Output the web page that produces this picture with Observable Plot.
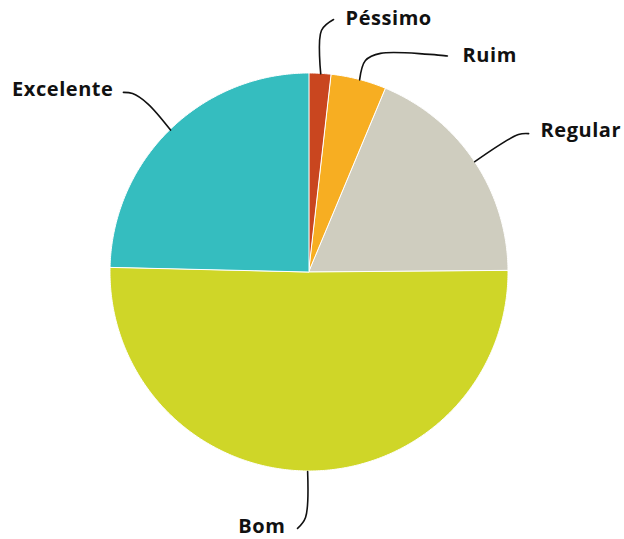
<!DOCTYPE html>
<html>
<head>
<meta charset="utf-8">
<script src="https://cdn.jsdelivr.net/npm/d3@7"></script>
<script src="https://cdn.jsdelivr.net/npm/@observablehq/plot@0.6"></script>
<style>
  html, body { margin: 0; padding: 0; background: #fff; }
</style>
</head>
<body>
<div id="chart"></div>
<script>
// Data (percent shares, clockwise from 12 o'clock)
const categories = ["Péssimo", "Ruim", "Regular", "Bom", "Excelente"];
const values = [1.8, 4.5, 18.6, 50.5, 24.6];

// Styles
const colors = ["#c9461f", "#f7ae22", "#cfcdbf", "#cfd628", "#35bdbf"];

// Label layout (chart units: pie radius = 1), kept apart from the data
const leaderLayout = {
  "Péssimo":   {via: [[0.06, 1.216]], end: [0.121, 1.271], label: [0.181, 1.278], anchor: "start"},
  "Ruim":      {via: [[0.281, 1.065], [0.357, 1.101]], end: [0.693, 1.088], label: [0.769, 1.088], anchor: "start"},
  "Regular":   {via: [[1.05, 0.693]], end: [1.101, 0.698], label: [1.161, 0.712], anchor: "start"},
  "Bom":       {via: [[-0.02, -1.231]], end: [-0.06, -1.286], label: [-0.121, -1.277], anchor: "end"},
  "Excelente": {via: [[-0.814, 0.849], [-0.889, 0.899]], end: [-0.935, 0.905], label: [-0.985, 0.918], anchor: "end"}
};

const total = d3.sum(values);
const slices = [];
let acc = 0;
categories.forEach((c, i) => {
  const a0 = acc / total * 2 * Math.PI;
  acc += values[i];
  const a1 = acc / total * 2 * Math.PI;
  slices.push({category: c, value: values[i], a0, a1, mid: (a0 + a1) / 2});
});

// Sector outlines (arc vertices for drawing the slice shape)
const sectorPts = [];
for (const s of slices) {
  const n = Math.max(2, Math.ceil((s.a1 - s.a0) / (Math.PI / 360)));
  for (let k = 0; k <= n; k++) {
    const a = s.a0 + (s.a1 - s.a0) * k / n;
    sectorPts.push({category: s.category, x: Math.sin(a), y: Math.cos(a)});
  }
}

// Leader lines
const leaderPts = [];
const labels = [];
for (const s of slices) {
  const L = leaderLayout[s.category];
  leaderPts.push({category: s.category, x: Math.sin(s.mid), y: Math.cos(s.mid)});
  for (const p of L.via) leaderPts.push({category: s.category, x: p[0], y: p[1]});
  leaderPts.push({category: s.category, x: L.end[0], y: L.end[1]});
  labels.push({category: s.category, x: L.label[0], y: L.label[1], anchor: L.anchor});
}

const textStyle = {fontSize: 20, fontWeight: 700, fill: "#111", letterSpacing: "0.55px"};

const chart = Plot.plot({
  width: 624,
  height: 539,
  marginLeft: 110,
  marginRight: 116,
  marginTop: 73,
  marginBottom: 68,
  x: {domain: [-1, 1], axis: null},
  y: {domain: [-1, 1], axis: null},
  color: {domain: categories, range: colors},
  style: {background: "#fff", overflow: "visible", fontFamily: "'Open Sans', sans-serif"},
  marks: [
    Plot.area(sectorPts, {
      x1: 0, y1: 0, x2: "x", y2: "y",
      z: "category", fill: "category",
      stroke: "#fff", strokeWidth: 1, strokeLinejoin: "round"
    }),
    Plot.line(leaderPts, {
      x: "x", y: "y", z: "category",
      curve: "catmull-rom", stroke: "#111", strokeWidth: 1.6
    }),
    Plot.text(labels.filter(d => d.anchor === "start"), {
      x: "x", y: "y", text: "category", textAnchor: "start", ...textStyle
    }),
    Plot.text(labels.filter(d => d.anchor === "end"), {
      x: "x", y: "y", text: "category", textAnchor: "end", ...textStyle
    })
  ]
});
chart.querySelectorAll("text").forEach(t => t.style.letterSpacing = "0.55px");
document.getElementById("chart").appendChild(chart);
</script>
</body>
</html>
